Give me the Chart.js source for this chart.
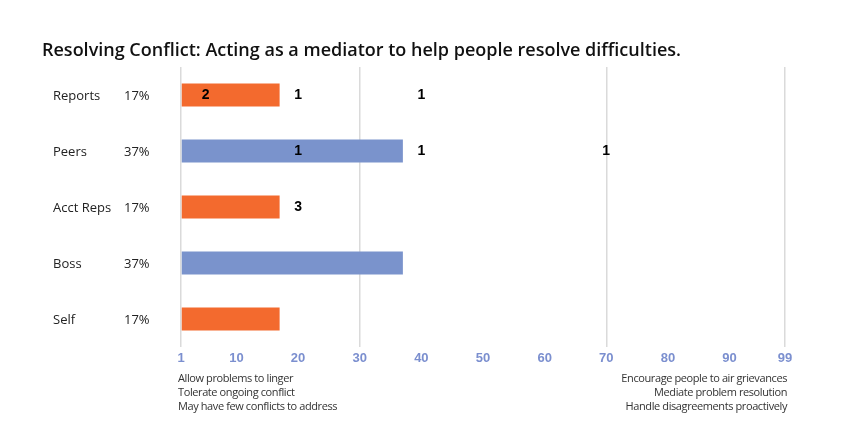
<!DOCTYPE html>
<html>
<head>
<meta charset="utf-8">
<script src="https://cdn.jsdelivr.net/npm/chart.js@4.4.1/dist/chart.umd.min.js"></script>
<style>
    html, body { margin: 0; padding: 0; background: #fff; }
</style>
</head>
<body>
<canvas id="conflictChart" width="848" height="448"></canvas>
<script>
// --- chart data ---
const categories = ['Reports', 'Peers', 'Acct Reps', 'Boss', 'Self'];
const shares = [17, 37, 17, 37, 17];
const tickValues = [1, 10, 20, 30, 40, 50, 60, 70, 80, 90, 99];
const gridValues = [1, 30, 70, 99];

// count labels sitting on the score axis
const countRows = ['Reports', 'Reports', 'Reports', 'Peers', 'Peers', 'Peers', 'Acct Reps'];
const countScores = [5, 20, 40, 20, 40, 70, 20];
const countValues = [2, 1, 1, 1, 1, 1, 3];

const notesLeft = ['Allow problems to linger', 'Tolerate ongoing conflict', 'May have few conflicts to address'];
const notesRight = ['Encourage people to air grievances', 'Mediate problem resolution', 'Handle disagreements proactively'];

const ORANGE = '#F36A2E';
const BLUE = '#7A93CC';

// draws row names, percentages, counts and the footer notes
const extraLabels = {
    id: 'extraLabels',
    afterDraw(chart) {
        const { ctx, scales: { x, y }, chartArea } = chart;
        ctx.save();
        ctx.textBaseline = 'middle';

        ctx.font = '13px "Open Sans"';
        ctx.fillStyle = '#222';
        ctx.textAlign = 'left';
        categories.forEach((cat, i) => {
            const py = y.getPixelForValue(i) + 1;
            ctx.fillText(cat, 53, py);
            ctx.fillText(shares[i] + '%', 124, py);
        });

        ctx.font = 'bold 14px "Liberation Sans", Arial';
        ctx.fillStyle = '#000';
        ctx.textAlign = 'center';
        countRows.forEach((row, i) => {
            const px = x.getPixelForValue(countScores[i]);
            const py = y.getPixelForValue(categories.indexOf(row));
            ctx.fillText(String(countValues[i]), px, py);
        });

        // footer notes are a bit condensed in the original
        ctx.font = '11px "Open Sans"';
        ctx.letterSpacing = '-0.4px';
        ctx.fillStyle = '#333';
        notesLeft.forEach((t, i) => {
            ctx.textAlign = 'left';
            ctx.fillText(t, chartArea.left - 3, chartArea.bottom + 32 + i * 14);
        });
        notesRight.forEach((t, i) => {
            ctx.textAlign = 'right';
            ctx.fillText(t, chartArea.right + 2, chartArea.bottom + 32 + i * 14);
        });
        ctx.restore();
    }
};

new Chart(document.getElementById('conflictChart'), {
    type: 'bar',
    data: {
        labels: categories,
        datasets: [{
            data: shares,
            base: 1,
            backgroundColor: ctx => (ctx.dataIndex % 2 === 0 ? ORANGE : BLUE),
            borderWidth: 0,
            categoryPercentage: 1,
            barPercentage: 0.41
        }]
    },
    options: {
        indexAxis: 'y',
        responsive: false,
        animation: false,
        layout: { padding: { left: 42, right: 63, top: 0, bottom: 71 } },
        plugins: {
            legend: { display: false },
            tooltip: { enabled: false },
            title: {
                display: true,
                align: 'start',
                text: 'Resolving Conflict: Acting as a mediator to help people resolve difficulties.',
                color: '#111',
                font: { family: '"Open Sans"', size: 18, weight: '600', lineHeight: 1.2 },
                padding: { top: 40, bottom: 5.4 }
            }
        },
        scales: {
            x: {
                min: 1,
                max: 99,
                afterBuildTicks: scale => { scale.ticks = tickValues.map(v => ({ value: v })); },
                afterFit: scale => { scale.height = 30; },
                border: { display: false },
                grid: {
                    drawTicks: false,
                    lineWidth: 1.5,
                    color: c => (c.tick && gridValues.includes(c.tick.value) ? '#DADADA' : 'transparent')
                },
                ticks: {
                    autoSkip: false,
                    maxRotation: 0,
                    padding: 4,
                    color: '#7B8FCF',
                    font: { family: '"Liberation Sans", Arial', size: 13, weight: 'bold' }
                }
            },
            y: {
                afterFit: scale => { scale.width = 139; },
                border: { display: false },
                grid: { display: false },
                ticks: { display: false }
            }
        }
    },
    plugins: [extraLabels]
});
</script>
</body>
</html>
